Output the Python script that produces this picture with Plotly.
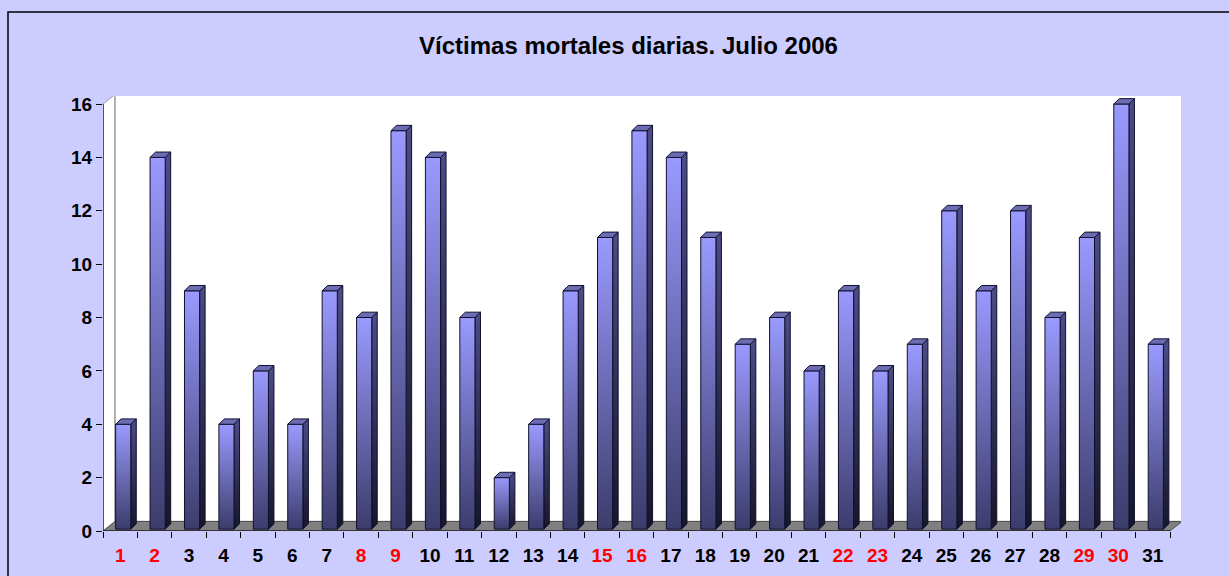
import plotly.graph_objects as go

# ---- data ----
days = list(range(1, 32))
victims = [4, 14, 9, 4, 6, 4, 9, 8, 15, 14, 8, 2, 4, 9, 11, 15, 14, 11, 7, 8, 6, 9, 6, 7, 12, 9, 12, 8, 11, 16, 7]
weekend_days = [1, 2, 8, 9, 15, 16, 22, 23, 29, 30]
y_ticks = [0, 2, 4, 6, 8, 10, 12, 14, 16]
title_text = "Víctimas mortales diarias. Julio 2006"

# ---- style constants (data units) ----
FLOOR_DX, FLOOR_DY = 0.349, 0.356     # depth of the 3D floor / wall
BAR_HALF = 0.22                       # half width of a bar front face
BAR_SHIFT_X, BAR_BASE = 0.087, 0.07   # bar placement in the depth
BAR_DX, BAR_DY = 0.16, 0.2            # depth of a bar
Y_MAX = 16
X_LO, X_HI = 0.5, len(days) + 0.5

FRONT_LIGHT, FRONT_DARK = "#9a9aff", "#3c3c6c"
SIDE_LIGHT, SIDE_DARK = "#4c4c88", "#16162a"
TOP_COLOR = "#6c6cb4"
EDGE = "#10102e"
FONT = "Arial, Liberation Sans, sans-serif"

fig = go.Figure()

def poly(xs, ys, fillcolor=None, line_color=EDGE, line_width=1, gradient=None):
    kw = dict(x=xs + [xs[0]], y=ys + [ys[0]], mode="lines", fill="toself",
              line=dict(color=line_color, width=line_width),
              hoverinfo="skip", showlegend=False)
    if gradient is not None:
        kw["fillgradient"] = dict(type="vertical", colorscale=gradient)
    else:
        kw["fillcolor"] = fillcolor
    fig.add_trace(go.Scatter(**kw))

# left side wall
poly([X_LO, X_LO + FLOOR_DX, X_LO + FLOOR_DX, X_LO],
     [0, FLOOR_DY, Y_MAX + FLOOR_DY, Y_MAX], fillcolor="white", line_color="#a0a0a0")
# back wall
poly([X_LO + FLOOR_DX, X_HI + FLOOR_DX, X_HI + FLOOR_DX, X_LO + FLOOR_DX],
     [FLOOR_DY, FLOOR_DY, Y_MAX + FLOOR_DY, Y_MAX + FLOOR_DY], fillcolor="white",
     line_color="#a0a0a0", line_width=1.5)
# floor
poly([X_LO, X_HI, X_HI + FLOOR_DX, X_LO + FLOOR_DX],
     [0, 0, FLOOR_DY, FLOOR_DY], fillcolor="#808080", line_color="#505050")

# bars
for d, v in zip(days, victims):
    x0 = d + BAR_SHIFT_X - BAR_HALF
    x1 = d + BAR_SHIFT_X + BAR_HALF
    # side face
    poly([x1, x1 + BAR_DX, x1 + BAR_DX, x1],
         [BAR_BASE, BAR_BASE + BAR_DY, v + BAR_DY, v],
         gradient=[[0, SIDE_DARK], [1, SIDE_LIGHT]])
    # front face
    poly([x0, x1, x1, x0], [BAR_BASE, BAR_BASE, v, v],
         gradient=[[0, FRONT_DARK], [1, FRONT_LIGHT]])
    # top face
    poly([x0, x1, x1 + BAR_DX, x0 + BAR_DX], [v, v, v + BAR_DY, v + BAR_DY],
         fillcolor=TOP_COLOR)

# axis lines
fig.add_trace(go.Scatter(x=[X_LO, X_LO], y=[0, Y_MAX], mode="lines",
                         line=dict(color="black", width=1.2), hoverinfo="skip", showlegend=False))
fig.add_trace(go.Scatter(x=[X_LO, X_HI], y=[0, 0], mode="lines",
                         line=dict(color="black", width=1.2), hoverinfo="skip", showlegend=False))

tick_text = [f'<span style="color:#ff0000">{d}</span>' if d in weekend_days else str(d) for d in days]

W, H = 1229, 576
ML, MR, MT, MB = 103, 48, 96, 45
plot_w = W - ML - MR
plot_h = H - MT - MB
px_per_x = (1170 - 103) / (X_HI - X_LO)
px_per_y = (531 - 104) / Y_MAX
x_range_hi = X_LO + plot_w / px_per_x
y_range_hi = plot_h / px_per_y

fig.update_layout(
    width=W, height=H, autosize=False,
    margin=dict(l=ML, r=MR, t=MT, b=MB, pad=0, autoexpand=False),
    paper_bgcolor="#ccccff", plot_bgcolor="#ccccff",
    title=dict(text=f"<b>{title_text}</b>", x=628.5 / W, xref="container", xanchor="center",
               y=1 - 46 / H, yref="container", yanchor="middle",
               font=dict(family=FONT, size=24, color="black")),
    xaxis=dict(range=[X_LO, x_range_hi], showgrid=False, zeroline=False, showline=False,
               automargin=False,
               tickmode="array", tickvals=days, ticktext=tick_text,
               ticks="outside", ticklen=7, tickcolor="rgba(0,0,0,0)",
               tickfont=dict(family=FONT, size=19, color="black", weight="bold"),
               minor=dict(tickmode="array", tickvals=[d - 0.5 for d in days] + [days[-1] + 0.5],
                          ticks="outside", ticklen=6, tickcolor="black", tickwidth=1, showgrid=False),
               fixedrange=True),
    yaxis=dict(range=[0, y_range_hi], showgrid=False, zeroline=False, showline=False,
               automargin=False,
               tickmode="array", tickvals=y_ticks, ticks="outside", ticklen=6,
               tickcolor="black", tickwidth=1,
               tickfont=dict(family=FONT, size=19, color="black", weight="bold"),
               fixedrange=True),
    shapes=[dict(type="rect", xref="paper", yref="paper",
                 x0=(8 - ML) / plot_w, x1=(W + 5 - ML) / plot_w,
                 y0=(H - MB - (H + 5)) / plot_h, y1=(H - MB - 12) / plot_h,
                 line=dict(color="black", width=1.5), fillcolor="rgba(0,0,0,0)", layer="below")],
)

fig.write_html("out.html",
               config={"displayModeBar": False},
               post_script="document.body.style.margin='0';document.body.style.overflow='hidden';")
